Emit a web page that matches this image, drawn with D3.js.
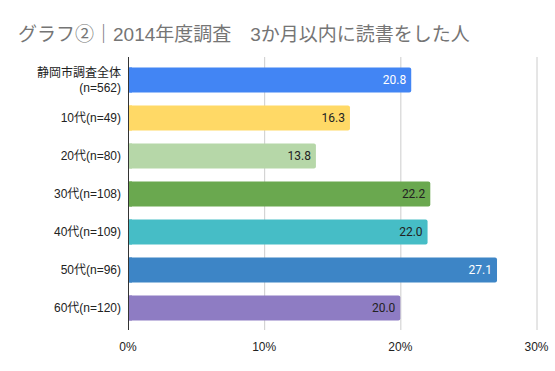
<!DOCTYPE html>
<html>
<head>
<meta charset="utf-8">
<script src="https://cdn.jsdelivr.net/npm/d3@7"></script>
<style>
  body { margin: 0; background: #fff; }
  svg { display: block; font-family: "Liberation Sans", Arial, "Noto Sans CJK JP", sans-serif; }
</style>
</head>
<body>
<svg id="chart" width="555" height="371"></svg>
<script>
// chart data
const titleText = "グラフ②｜2014年度調査　3か月以内に読書をした人";
const categories = [
    ["静岡市調査全体", "(n=562)"],
    ["10代(n=49)"],
    ["20代(n=80)"],
    ["30代(n=108)"],
    ["40代(n=109)"],
    ["50代(n=96)"],
    ["60代(n=120)"]
];
const values = [20.8, 16.3, 13.8, 22.2, 22.0, 27.1, 20.0];
const barColors = ["#4285f4", "#ffd966", "#b6d7a8", "#6aa84f", "#46bdc6", "#3d85c6", "#8e7cc3"];
const labelColors = ["#ffffff", "#222222", "#222222", "#222222", "#222222", "#ffffff", "#222222"];
const xTicks = [0, 10, 20, 30];

const svg = d3.select("#chart");
const margin = { top: 61, left: 128, right: 19, bottom: 44 };
const width = 555 - margin.left - margin.right;
const height = 371 - margin.top - margin.bottom;

// title
svg.append("text")
    .attr("x", 18)
    .attr("y", 41)
    .attr("font-size", 19)
    .attr("fill", "#757575")
    .attr("font-family", "'Liberation Sans', 'Noto Sans CJK JP', sans-serif")
    .text(titleText);

const g = svg.append("g").attr("transform", `translate(${margin.left},${margin.top})`);

const x = d3.scaleLinear().domain([0, 30]).range([0, 408.5]);
const y = d3.scaleBand().domain(d3.range(values.length)).range([0, height]).paddingInner(0.34).paddingOuter(0.17);

// gridlines
g.selectAll(".grid")
    .data(xTicks.slice(1))
    .enter()
    .append("line")
    .attr("x1", (d) => x(d) + 0.5)
    .attr("x2", (d) => x(d) + 0.5)
    .attr("y1", -4)
    .attr("y2", height + 3)
    .attr("stroke", "#cccccc");

// bars
g.selectAll(".bar")
    .data(values)
    .enter()
    .append("rect")
    .attr("x", 0)
    .attr("y", (d, i) => y(i))
    .attr("width", (d) => x(d))
    .attr("height", y.bandwidth())
    .attr("rx", 2)
    .attr("fill", (d, i) => barColors[i]);

// cover left rounded corners
g.selectAll(".barfix")
    .data(values)
    .enter()
    .append("rect")
    .attr("x", 0)
    .attr("y", (d, i) => y(i))
    .attr("width", 4)
    .attr("height", y.bandwidth())
    .attr("fill", (d, i) => barColors[i]);

// value labels
g.selectAll(".val")
    .data(values)
    .enter()
    .append("text")
    .attr("x", (d) => x(d) - 5)
    .attr("y", (d, i) => y(i) + y.bandwidth() / 2)
    .attr("dy", "0.36em")
    .attr("text-anchor", "end")
    .attr("font-size", 12)
    .attr("font-family", "Roboto, sans-serif")
    .attr("fill", (d, i) => labelColors[i])
    .text((d) => d.toFixed(1));

// baseline axis
g.append("line")
    .attr("x1", 0.5)
    .attr("x2", 0.5)
    .attr("y1", -4)
    .attr("y2", height + 3)
    .attr("stroke", "#333333");

// category labels
categories.forEach((lines, i) => {
    const cy = y(i) + y.bandwidth() / 2;
    const t = g.append("text")
        .attr("text-anchor", "end")
        .attr("font-size", 12)
        .attr("fill", "#222222");
    lines.forEach((line, j) => {
        t.append("tspan")
            .attr("x", -7)
            .attr("y", cy + (j - (lines.length - 1) / 2) * 15)
            .attr("dy", "0.36em")
            .text(line);
    });
});

// x tick labels
g.selectAll(".tick")
    .data(xTicks)
    .enter()
    .append("text")
    .attr("x", (d) => x(d))
    .attr("y", height + 24)
    .attr("text-anchor", "middle")
    .attr("font-size", 12)
    .attr("fill", "#222222")
    .text((d) => d + "%");
</script>
</body>
</html>
